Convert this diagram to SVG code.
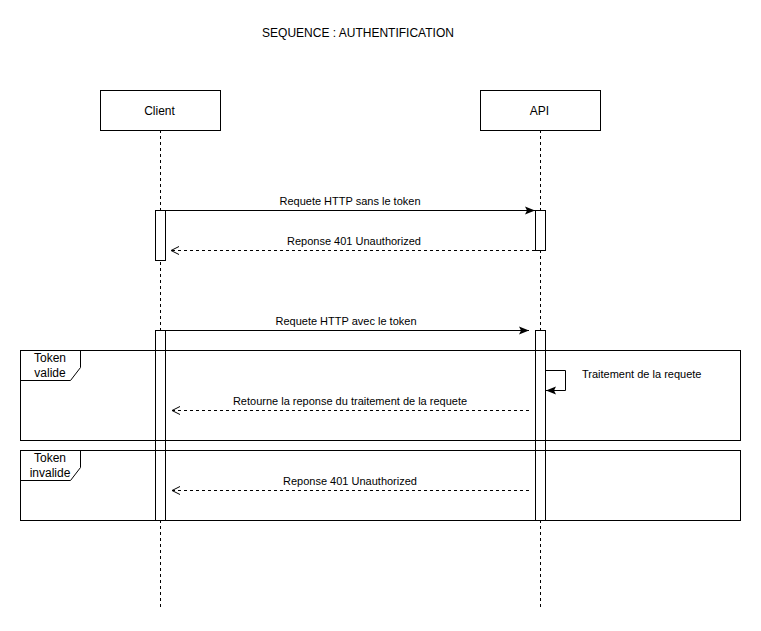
<svg xmlns="http://www.w3.org/2000/svg" width="761" height="631" viewBox="0 0 761 631">
<style>
text{font-family:"Liberation Sans",Arial,sans-serif;font-size:11px;fill:#000}
.big{font-size:12px}
.box{fill:#fff;stroke:#000;stroke-width:1}
.life{stroke:#000;stroke-width:1;stroke-dasharray:3 3;fill:none}
.msg{stroke:#000;stroke-width:1;fill:none}
.ret{stroke:#000;stroke-width:1;fill:none;stroke-dasharray:3 3}
.frame{fill:none;stroke:#000;stroke-width:1}
</style>
<defs>
<marker id="fill" viewBox="0 0 10 10" refX="10" refY="5" markerWidth="10" markerHeight="10" markerUnits="userSpaceOnUse" orient="auto">
<path d="M0,1 L10,5 L0,9 L2,5 Z" fill="#000"/>
</marker>
<marker id="open" viewBox="0 0 10 10" refX="9" refY="5" markerWidth="10" markerHeight="10" markerUnits="userSpaceOnUse" orient="auto">
<path d="M1,1 L9,5 L1,9" fill="none" stroke="#000" stroke-width="1"/>
</marker>
</defs>
<rect width="761" height="631" fill="#fff"/>
<text class="big" x="358" y="37" text-anchor="middle">SEQUENCE : AUTHENTIFICATION</text>

<g id="client">
<line class="life" x1="160.5" y1="130" x2="160.5" y2="607"/>
<rect class="box" x="100.5" y="90.5" width="120" height="40"/>
<text class="big" x="159.5" y="115" text-anchor="middle">Client</text>
</g>
<g id="api">
<line class="life" x1="540.5" y1="130" x2="540.5" y2="607"/>
<rect class="box" x="480.5" y="90.5" width="120" height="40"/>
<text class="big" x="539.5" y="115" text-anchor="middle">API</text>
</g>
<g id="activations">
<rect class="box" x="155.5" y="210.5" width="10" height="50"/>
<rect class="box" x="535.5" y="210.5" width="10" height="40"/>
<rect class="box" x="155.5" y="330.5" width="10" height="190"/>
<rect class="box" x="535.5" y="330.5" width="10" height="190"/>
</g>
<g id="frame-valide">
<rect class="frame" x="20.5" y="350.5" width="720" height="90"/>
<path class="frame" d="M20.5,380.5 L70.5,380.5 L80.5,367.5 L80.5,350.5"/>
<text class="big" x="50" y="362" text-anchor="middle">Token</text>
<text class="big" x="50" y="377" text-anchor="middle">valide</text>
</g>
<g id="frame-invalide">
<rect class="frame" x="20.5" y="450.5" width="720" height="70"/>
<path class="frame" d="M20.5,480.5 L70.5,480.5 L80.5,467.5 L80.5,450.5"/>
<text class="big" x="50" y="462" text-anchor="middle">Token</text>
<text class="big" x="50" y="477" text-anchor="middle">invalide</text>
</g>
<g id="connectors">
<line class="msg" x1="165.5" y1="210.5" x2="535" y2="210.5" marker-end="url(#fill)"/>
<text x="350" y="204.5" text-anchor="middle">Requete HTTP sans le token</text>
<line class="ret" x1="535" y1="250.5" x2="171" y2="250.5" marker-end="url(#open)"/>
<text x="354" y="244.5" text-anchor="middle">Reponse 401 Unauthorized</text>
<line class="msg" x1="165.5" y1="330.5" x2="529" y2="330.5" marker-end="url(#fill)"/>
<text x="346" y="324.5" text-anchor="middle">Requete HTTP avec le token</text>
<path class="msg" d="M545.5,370.5 L565.5,370.5 L565.5,390.5 L546,390.5" marker-end="url(#fill)"/>
<text x="582" y="378">Traitement de la requete</text>
<line class="ret" x1="529" y1="410.5" x2="172" y2="410.5" marker-end="url(#open)"/>
<text x="350" y="404.5" text-anchor="middle">Retourne la reponse du traitement de la requete</text>
<line class="ret" x1="529" y1="490.5" x2="172" y2="490.5" marker-end="url(#open)"/>
<text x="350" y="484.5" text-anchor="middle">Reponse 401 Unauthorized</text>
</g>
</svg>
